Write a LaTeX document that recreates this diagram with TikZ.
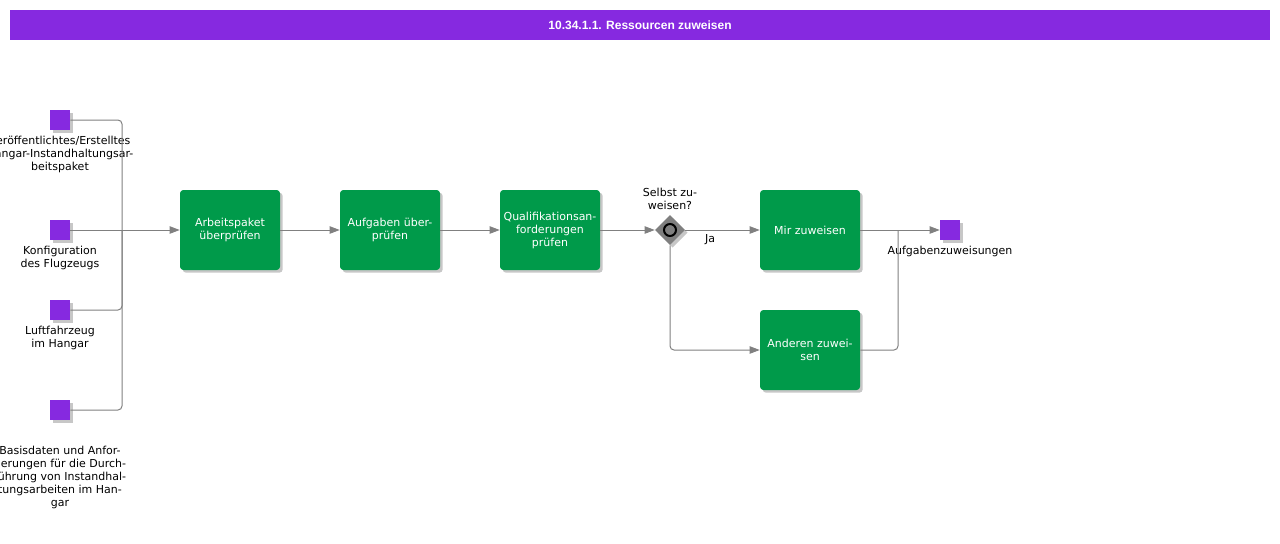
\documentclass[tikz,border=0pt]{standalone}
\usepackage{fontspec}
\setmainfont{DejaVu Sans}
\newfontfamily\titlefont{Liberation Sans}
\usetikzlibrary{arrows.meta,shadows,shapes.geometric}
\definecolor{vio}{HTML}{8629E0}
\definecolor{grn}{HTML}{009A4A}
\definecolor{ln}{HTML}{808080}
\definecolor{gw}{HTML}{7F7F7F}
\begin{document}
\begin{tikzpicture}[x=0.75pt,y=-0.75pt,
  conn/.style={draw=ln, line width=0.75pt, rounded corners=3pt},
  arr/.style={conn, -{Triangle[length=7.5pt,width=5.5pt]}},
  shad/.style={drop shadow={shadow xshift=2pt, shadow yshift=-2pt, fill=black, opacity=0.22}},
  task/.style={rectangle, rounded corners=2.5pt, fill=grn, minimum width=75pt, minimum height=60pt, inner sep=1pt, align=center, text=white, font=\fontsize{8.25}{9.75}\selectfont, shad},
  data/.style={rectangle, fill=vio, minimum size=15pt, inner sep=0pt, shad},
  lbl/.style={align=center, text=black, inner sep=0pt, font=\fontsize{8.25}{9.75}\selectfont},
  gate/.style={diamond, fill=gw, minimum width=22.5pt, minimum height=22.5pt, inner sep=0pt, shad}
]
\useasboundingbox (0,0) rectangle (1280,543);
\clip (0,0) rectangle (1280,543);
% title
\node[rectangle, fill=vio, minimum width=945pt, minimum height=22.5pt, inner sep=0pt, text=white, font=\titlefont\bfseries\fontsize{9}{11}\selectfont] (title) at (640,25) {10.34.1.1. Ressourcen zuweisen};
% inputs
\node[data] (d1) at (60,120) {};
\node[data] (d2) at (60,230) {};
\node[data] (d3) at (60,310) {};
\node[data] (d4) at (60,410) {};
\node[lbl] (l1) at (60,154) {Veröffentlichtes/Erstelltes\\Hangar-Instandhaltungsar-\\beitspaket};
\node[lbl] (l2) at (60,257.5) {Konfiguration\\des Flugzeugs};
\node[lbl] (l3) at (60,337.5) {Luftfahrzeug\\im Hangar};
\node[lbl] (l4) at (60,477) {Basisdaten und Anfor-\\derungen für die Durch-\\führung von Instandhal-\\tungsarbeiten im Han-\\gar};
% tasks
\node[task] (t1) at (230,230) {Arbeitspaket\\überprüfen};
\node[task] (t2) at (390,230) {Aufgaben über-\\prüfen};
\node[task] (t3) at (550,230) {Qualifikationsan-\\forderungen\\prüfen};
\node[gate] (g) at (670,230) {};
\node[circle, draw=black, line width=1.5pt, fill=gw, minimum size=9pt, inner sep=0pt] (gc) at (g.center) {};
\node[lbl] (gl) at (670,198.5) {Selbst zu-\\weisen?};
\node[lbl] (ja) at (710,240) {Ja};
\node[task] (t4) at (810,230) {Mir zuweisen};
\node[task] (t5) at (810,350) {Anderen zuwei-\\sen};
\node[data] (out) at (950,230) {};
\node[lbl] (ol) at (950,251) {Aufgabenzuweisungen};
% connectors
\coordinate (j) at (122,230);
\coordinate (m) at (898,230);
\draw[conn] (d1.east) -| (j);
\draw[conn] (d3.east) -| (j);
\draw[conn] (d4.east) -| (j);
\draw[arr] (d2.east) -- (t1.west);
\draw[arr] (t1.east) -- (t2.west);
\draw[arr] (t2.east) -- (t3.west);
\draw[arr] (t3.east) -- (g.west);
\draw[arr] (g.east) -- (t4.west);
\draw[arr] (g.south) |- (t5.west);
\draw[arr] (t4.east) -- (out.west);
\draw[conn] (t5.east) -| (m);
\end{tikzpicture}
\end{document}
